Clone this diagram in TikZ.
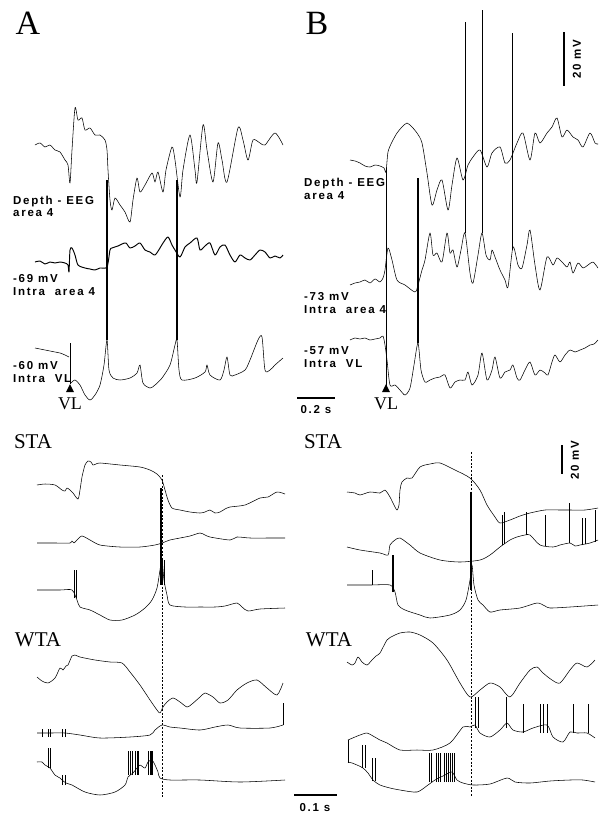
\documentclass[tikz,border=0pt]{standalone}
\usepackage{fontspec}
\setmainfont{Liberation Serif}
\newfontfamily\lblfont[LetterSpace=15.0]{Liberation Sans Bold}
\tikzset{
    trace/.style={line width=0.55pt, line join=round},
    heavy/.style={line width=0.95pt, line join=round},
    burst/.style={line width=2.2pt},
    spk/.style={line width=0.45pt},
    sync/.style={line width=0.4pt, dash pattern=on 2pt off 1.6pt},
    bar/.style={line width=2.4pt},
    tag/.style={font=\lblfont\fontsize{11.5}{12.5}\selectfont, anchor=west, align=left, inner sep=0pt},
    panel/.style={font=\fontsize{34}{34}\selectfont, inner sep=0pt},
    avg/.style={font=\fontsize{21}{21}\selectfont, inner sep=0pt},
    stimtag/.style={font=\fontsize{18}{18}\selectfont, inner sep=0pt}
}
\newcommand{\sweep}[2] {
	\draw[#1] plot[smooth, tension=0.45] coordinates {#2};
}
\newcommand{\unitspike}[3] {
	\draw[spk] (#1,#2) -- (#1,#3);
}
\newcommand{\stimmark}[2] {
	\fill (#1-4,#2+4) -- (#1+4,#2+4) -- (#1,#2-4) -- cycle;
}
\begin{document}
\begin{tikzpicture}[x=1pt,y=-1pt]
		\useasboundingbox (0,0) rectangle (607,820);

		% Panel A
		\node[panel] (lettA) at (28,23) {A};
		\sweep{trace}{(35,145) (40,143) (45,147) (50,145) (55,150) (60,152) (65,160) (68,165) (70,183) (72,150) (75,108) (78,120) (82,118) (85,130) (90,128) (95,135) (100,135) (105,140) (107,150) (108,170) (110,200) (112,210) (115,198) (120,205) (125,212) (130,222) (133,200) (137,178) (140,192) (145,185) (152,173) (155,182) (158,172) (163,192) (166,170) (172,147) (175,160) (180,197) (183,170) (190,135) (195,170) (197,182) (203,125) (207,150) (213,182) (218,143) (222,160) (227,182) (238,128) (243,140) (248,160) (253,140) (260,143) (265,145) (275,133) (283,145)}
		\sweep{heavy}{(35,262) (40,261) (45,264) (50,262) (55,263) (60,262) (65,263) (68,265) (69,272) (70,250) (72,248) (75,255) (78,265) (85,268) (90,269) (95,270) (100,268) (107,267) (110,250) (112,248) (118,246) (122,244) (126,243) (130,248) (135,246) (140,243) (145,250) (150,252) (155,255) (160,248) (163,243) (168,237) (172,245) (175,250) (180,257) (185,247) (190,243) (197,238) (200,250) (205,246) (210,243) (215,255) (220,247) (225,245) (230,255) (235,262) (240,255) (245,258) (250,260) (255,255) (260,250) (265,252) (270,258) (275,256) (280,258) (283,255)}
		\sweep{trace}{(35,348) (40,349) (45,350) (50,351) (55,352) (60,353) (65,355) (69,357)}
		\draw[trace] (70,343) -- (70,384);
		\sweep{trace}{(71,383) (75,380) (80,385) (85,395) (90,400) (95,395) (100,385) (104,365) (107,340) (109,370) (113,378) (120,380) (130,378) (137,373) (140,365) (143,383) (150,388) (155,385) (162,378) (170,365) (175,345) (177,340) (179,370) (182,380) (195,378) (205,372) (207,365) (210,375) (220,380) (224,370) (227,357) (230,375) (235,375) (245,370) (250,360) (258,340) (262,337) (265,370) (270,370) (275,365) (283,358)}
		\draw[burst] (107,180) -- (107,340);
		\draw[burst] (177,180) -- (177,340);
		\stimmark{70}{388}
		\node[stimtag] (vlA) at (70,404) {VL};
		\node[tag] (eegA) at (13,206.5) {Depth - EEG\\area 4};
		\node[tag] (ctxA) at (13,285) {-69 mV\\Intra\ \ area 4};
		\node[tag] (thA) at (13,372) {-60 mV\\Intra\ \ VL};

		% Panel B
		\node[panel] (lettB) at (317,23) {B};
		\sweep{trace}{(350,160) (355,161) (360,163) (365,166) (370,167) (375,165) (380,166) (384,168) (386,172) (388,152) (392,142) (397,133) (402,127) (407,123) (412,127) (417,133) (422,143) (427,173) (432,205) (437,190) (442,180) (448,210) (452,185) (457,158) (463,180) (468,165) (473,157) (480,150) (487,167) (492,153) (500,147) (505,163) (510,160) (517,143) (523,133) (530,160) (535,133) (540,143) (547,133) (552,127) (557,118) (562,137) (567,130) (573,137) (578,140) (583,147) (590,133) (595,143) (598,144)}
		\sweep{trace}{(350,285) (355,283) (360,282) (365,280) (370,283) (375,279) (380,282) (383,278) (385,270) (388,248) (392,260) (397,280) (405,285) (415,292) (418,285) (422,270) (425,260) (430,233) (433,255) (437,253) (442,262) (447,233) (450,253) (453,250) (457,267) (461,250) (465,233) (470,273) (473,283) (478,255) (482,233) (486,255) (490,260) (492,250) (495,257) (500,270) (505,280) (508,287) (513,247) (518,265) (522,268) (527,245) (530,230) (535,265) (540,290) (547,257) (553,265) (557,258) (562,262) (567,267) (570,262) (573,273) (578,263) (583,268) (588,265) (593,262) (598,268)}
		\sweep{trace}{(350,340) (355,338) (360,339) (365,338) (370,340) (375,339) (380,338) (383,336) (385,345) (387,360) (390,385) (395,385) (400,390) (405,395) (410,388) (414,365) (418,343) (421,370) (425,382) (430,380) (435,378) (440,377) (445,375) (450,388) (455,382) (460,380) (465,380) (468,372) (472,385) (478,375) (482,353) (487,380) (492,370) (495,357) (500,378) (505,372) (510,370) (513,365) (517,378) (520,380) (525,370) (530,362) (535,375) (540,370) (545,373) (548,375) (552,362) (555,355) (560,362) (565,355) (570,350) (575,352) (580,350) (585,348) (590,345) (594,344) (598,340)}
		\draw[spk] (386,168) -- (386,387);
		\draw[burst] (418,178) -- (418,343);
		\unitspike{465}{233}{22}
		\unitspike{482}{233}{10}
		\unitspike{512}{250}{33}
		\stimmark{386}{388}
		\node[stimtag] (vlB) at (386,404) {VL};
		\node[tag] (eegB) at (304,189) {Depth - EEG\\area 4};
		\node[tag] (ctxB) at (304,303) {-73 mV\\Intra\ \ area 4};
		\node[tag] (thB) at (304,357) {-57 mV\\Intra\ \ VL};
		\draw[bar] (564,32) -- (564,86);
		\node[tag, anchor=center, rotate=90] (mvB) at (577,59) {20 mV};
		\draw[bar] (297,398) -- (335,398);
		\node[tag, anchor=center] (secB) at (316,410) {0.2 s};

		% STA, left
		\node[avg] (staA) at (33,442) {STA};
		\sweep{trace}{(37,485) (45,484) (55,485) (62,490) (65,491) (67,488) (70,490) (73,493) (78,499) (80,490) (82,477) (85,465) (88,461) (91,462) (93,465) (96,464) (100,463) (120,465) (140,467) (150,470) (157,474) (162,480) (165,490) (168,500) (172,508) (180,510) (190,512) (200,513) (205,512) (210,510) (215,513) (220,512) (225,509) (230,507) (245,505) (260,498) (268,497) (277,492) (285,494)}
		\sweep{trace}{(37,543) (55,543) (70,543) (72,541) (74,543) (77,540) (82,536) (90,540) (100,545) (120,547) (140,547) (155,545) (162,543) (170,540) (180,538) (190,536) (200,533) (205,535) (210,537) (230,540) (237,537) (250,538) (270,538) (285,538)}
		\sweep{trace}{(37,590) (60,590) (72,590) (77,600) (80,607) (90,610) (100,615) (110,620) (122,620) (135,615) (145,608) (152,600) (157,588) (160,570) (162,560) (164,580) (167,595) (170,605) (185,607) (200,607) (215,607) (225,606) (237,603) (242,607) (248,611) (260,609) (285,608)}
		\foreach \x in {74.5,76} { \unitspike{\x}{598}{570} }
		\draw[line width=1.1pt] (161,488) -- (161,585);
		\foreach \x in {162.5,164} { \unitspike{\x}{585}{560} }

		% WTA, left
		\node[avg] (wtaA) at (38,640) {WTA};
		\sweep{trace}{(37,677) (42,681) (48,683) (55,678) (60,668) (63,670) (66,666) (68,665) (72,656) (75,655) (80,657) (95,660) (110,662) (122,663) (130,672) (140,685) (150,700) (157,710) (160,713) (163,707) (167,702) (173,698) (180,702) (187,707) (192,704) (200,697) (205,693) (213,697) (220,703) (228,700) (237,690) (247,683) (257,680) (267,688) (277,695) (283,683)}
		\sweep{trace}{(37,733) (50,733) (65,733) (80,735) (100,738) (130,737) (150,735) (155,730) (162,725) (170,727) (180,728) (200,730) (215,727) (228,725) (240,728) (270,728) (283,725)}
		\foreach \x in {42,48,50,62,65} { \unitspike{\x}{737}{729} }
		\unitspike{283}{725}{703}
		\sweep{trace}{(37,762) (42,762) (45,765) (50,768) (55,775) (60,778) (62,780) (66,783) (72,785) (85,792) (100,795) (115,792) (125,785) (128,777) (133,773) (137,768) (140,765) (145,768) (148,762) (152,760) (155,765) (158,772) (160,778) (170,780) (200,780) (240,782) (285,780)}
		\foreach \x in {48,50} { \unitspike{\x}{768}{748} }
		\foreach \x in {62,65} { \unitspike{\x}{785}{775} }
		\foreach \x in {128,130,132,135,137,138,148,150,151,152} { \unitspike{\x}{775}{751} }
		\draw[sync] (162,475) -- (162,797);

		% STA, right
		\node[avg] (staB) at (323,442) {STA};
		\sweep{trace}{(347,492) (355,493) (360,495) (370,492) (380,493) (385,490) (390,497) (394,505) (397,510) (399,505) (400,490) (402,482) (407,478) (412,478) (420,467) (430,464) (440,463) (455,470) (470,478) (480,490) (487,505) (495,517) (500,523) (510,520) (520,516) (530,513) (545,510) (560,510) (570,510) (585,510) (598,508)}
		\sweep{trace}{(347,547) (360,550) (380,553) (388,555) (390,545) (395,540) (400,538) (410,545) (420,553) (440,560) (460,562) (480,560) (490,555) (500,547) (510,540) (517,537) (525,535) (530,535) (540,545) (553,547) (560,545) (570,543) (575,546) (580,545) (590,543) (598,540)}
		\unitspike{502}{545}{515}
		\unitspike{504}{544}{512}
		\unitspike{526}{535}{512}
		\unitspike{545}{546}{515}
		\unitspike{569}{543}{503}
		\unitspike{582}{545}{518}
		\unitspike{585}{544}{518}
		\unitspike{595}{542}{510}
		\sweep{trace}{(347,585) (370,585) (390,585) (395,592) (398,605) (405,610) (420,615) (430,618) (450,615) (460,610) (466,600) (470,580) (472,565) (474,585) (478,600) (483,605) (490,612) (500,610) (520,608) (537,603) (545,606) (550,608) (570,607) (598,605)}
		\unitspike{372}{585}{570}
		\foreach \x in {392,393.5} { \unitspike{\x}{592}{555} }
		\draw[line width=1.1pt] (471,492) -- (471,590);
		\draw[bar] (562,445) -- (562,474);
		\node[tag, anchor=center, rotate=90] (mvD) at (575,460) {20 mV};

		% WTA, right
		\node[avg] (wtaB) at (329,640) {WTA};
		\sweep{trace}{(347,662) (352,665) (355,663) (358,657) (362,662) (367,665) (372,660) (376,656) (380,653) (387,640) (393,636) (400,633) (410,632) (420,635) (433,643) (447,660) (460,683) (470,697) (480,690) (490,683) (500,687) (510,697) (520,683) (530,670) (537,667) (543,673) (552,680) (560,683) (570,670) (577,663) (587,667) (595,660)}
		\sweep{trace}{(348,740) (355,737) (360,735) (367,733) (373,736) (380,740) (387,743) (400,750) (417,750) (433,750) (450,743) (463,727) (470,727) (475,725) (480,733) (490,737) (500,730) (507,723) (513,730) (523,732) (533,728) (547,725) (553,737) (563,742) (570,732) (577,733) (587,733) (595,738)}
		\foreach \x in {475,478,506} { \unitspike{\x}{728}{697} }
		\foreach \x in {523,540,543,547,573,588} { \unitspike{\x}{733}{704} }
		\sweep{trace}{(348,762) (352,763) (357,765) (363,768) (368,773) (373,780) (380,785) (390,788) (400,790) (417,792) (428,785) (435,780) (445,775) (452,772) (457,780) (463,783) (473,785) (490,784) (507,778) (515,782) (530,783) (550,781) (570,780) (583,780) (595,782)}
		\draw[trace] (348,740) -- (348,763);
		\foreach \x in {362,365} { \unitspike{\x}{768}{745} }
		\foreach \x in {372,375} { \unitspike{\x}{781}{758} }
		\foreach \x in {429,431,436,438,440,444,446,448,450,452,454} { \unitspike{\x}{782}{753} }
		\draw[sync] (471,452) -- (471,797);
		\draw[bar] (294,795) -- (337,795);
		\node[tag, anchor=center] (secD) at (315,808) {0.1 s};
\end{tikzpicture}
\end{document}
